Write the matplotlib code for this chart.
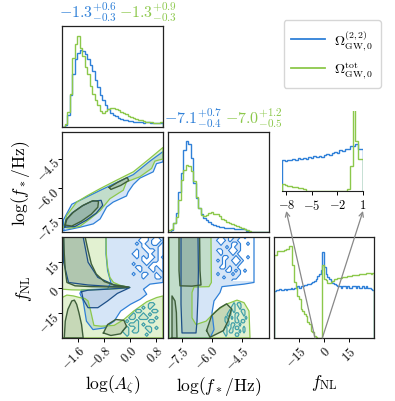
import numpy as np
import matplotlib.pyplot as plt
from matplotlib.patches import ConnectionPatch
from matplotlib.lines import Line2D

plt.rcParams['font.family'] = 'serif'
plt.rcParams['font.serif'] = ['cmr10', 'DejaVu Serif']
plt.rcParams['mathtext.fontset'] = 'cm'

BLUE = '#2f80d8'
GREEN = '#8cc84b'
DBLUE = '#1d4f88'
DGREEN = '#3e5e3a'
TEAL = '#3f9fa8'

# ---- 1D marginals -------------------------------------------------------
logA_edges = np.linspace(-2.1, 1.0, 41)
logA_blue = [0, .02, .12, .32, .52, .67, .73, .76, .75, .72, .67, .61, .55, .47, .40, .32,
             .27, .22, .18, .14, .12, .11, .09, .08, .07, .07, .06, .06, .05, .05, .05, .05,
             .04, .05, .05, .04, .04, .04, .04, .04]
logA_green = [0, .03, .15, .33, .68, .82, .90, .78, .70, .59, .52, .41, .33, .27, .22, .16,
              .14, .16, .18, .19, .19, .18, .17, .15, .14, .13, .11, .10, .09, .08, .07, .07,
              .06, .05, .05, .05, .04, .04, .04, .05]

logf_edges = np.linspace(-8.2, -3.15, 41)
logf_blue = [0, .02, .09, .19, .40, .59, .82, .91, .88, .74, .49, .34, .24, .18, .14, .12,
             .10, .08, .07, .06, .05, .05, .045, .04, .04, .04, .035, .03, .03, .03, .03, .01,
             0, 0, 0, 0, 0, 0, 0, 0]
logf_green = [.02, .03, .09, .15, .32, .52, .62, .67, .66, .61, .51, .35, .24, .17, .16, .17,
              .19, .20, .18, .18, .16, .13, .12, .10, .09, .08, .07, .06, .05, .04, .03, .02,
              .01, 0, 0, 0, 0, 0, 0, 0]

fnl_edges = np.linspace(-30, 30, 61)
fnl_blue = [.47, .48, .48, .49, .48, .48, .49, .48, .49, .49,
            .50, .49, .50, .50, .51, .50, .51, .51, .52, .52,
            .53, .53, .54, .55, .56, .58, .61, .63, .67, .85,
            .70, .63, .60, .58, .56, .54, .53, .52, .51, .51,
            .50, .51, .51, .50, .51, .50, .50, .51, .51, .50,
            .51, .50, .50, .51, .50, .51, .50, .50, .49, .48]
fnl_green = [.82, .82, .86, .86, .86, .86, .87, .88, .88, .91,
             .91, .72, .55, .50, .42, .39, .29, .27, .24, .22,
             .16, .14, .07, .06, .02, .01, 0, 0, 0, .72,
             .58, .57, .54, .54, .55, .56, .58, .58, .59, .59,
             .59, .60, .60, .60, .61, .61, .61, .62, .62, .62,
             .62, .63, .63, .63, .63, .64, .64, .64, .63, .64]

# zoomed view of f_NL near zero (log10 |f_NL|)
zoom_edges = np.linspace(-8.5, 1.0, 32)
zoom_blue = [31, 30, 31, 31, 32, 31, 33, 32, 33, 32, 34, 33, 35, 34, 35, 34,
             36, 37, 36, 38, 39, 38, 41, 40, 42, 42, 45, 45, 47, 42, 42]
zoom_green = [7, 6, 5, 5, 4, 4, 3, 3, 2, 0, 0, 0, 0, 0, 0, 0,
              0, 0, 0, 0, 0, 0, 0, 0, 0, 2, 25, 95, 50, 32, 32]

# ---- 2D credible regions (outer = 95%, inner = 68%) ---------------------
# log A vs log f*
D_blue_out = [(-2.04, -8.13), (-2.06, -7.6), (-1.8, -6.8), (-1.34, -6.43), (-0.93, -6.1),
              (-0.42, -5.7), (0.09, -5.3), (0.6, -4.62), (1.0, -4.14), (1.0, -4.66),
              (0.8, -4.75), (0.7, -5.16), (0.29, -5.48), (0.09, -5.8), (-0.07, -6.18),
              (-0.12, -6.38), (-0.53, -6.69), (-0.73, -6.94), (-0.93, -7.54),
              (-1.14, -7.79), (-1.55, -7.96)]
D_green_out = [(-2.04, -7.96), (-1.96, -7.37), (-1.65, -6.69), (-1.34, -6.38), (-0.93, -6.01),
               (-0.42, -5.58), (0.09, -5.16), (0.6, -4.48), (1.0, -3.93), (1.0, -4.51),
               (0.75, -4.62), (0.65, -4.99), (0.29, -5.41), (-0.12, -5.67), (-0.22, -6.09),
               (-0.63, -6.52), (-0.93, -7.12), (-1.24, -7.54), (-1.55, -7.91), (-1.85, -8.01)]
D_blue_in = [(-2.02, -7.95), (-1.98, -7.6), (-1.8, -7.25), (-1.5, -6.9), (-1.2, -6.65),
             (-0.9, -6.6), (-0.85, -6.85), (-1.05, -7.25), (-1.35, -7.6), (-1.7, -7.92)]
D_green_in = [(-2.0, -7.85), (-1.95, -7.55), (-1.75, -7.2), (-1.45, -6.85), (-1.15, -6.62),
              (-0.98, -6.65), (-1.0, -6.95), (-1.2, -7.3), (-1.5, -7.65), (-1.8, -7.9)]
D_green_in2 = [(-0.65, -5.95), (-0.4, -5.7), (-0.1, -5.45), (-0.05, -5.6), (-0.3, -5.85),
               (-0.6, -6.05)]

# log A vs f_NL
E_blue_out = [(-0.75, 30), (1.0, 30), (1.0, 3), (0.6, 2), (0.4, -1), (0.5, -4), (0.3, -7),
              (0.0, -10), (-0.3, -14), (-0.5, -20), (-0.8, -24), (-1.15, -25), (-1.35, -20),
              (-1.45, -8), (-1.55, -3.5), (-1.5, -1.5), (-1.2, -1.2), (-0.7, -0.8), (-0.6, 3),
              (-0.7, 10), (-0.75, 20)]
E_blue_in = [(-1.5, -2.5), (-1.3, -1.6), (-0.8, -1.1), (-0.02, -0.1), (-0.4, -3.5), (-0.7, -8),
             (-1.0, -12), (-1.3, -12), (-1.45, -7)]
E_blue_in2 = [(-2.05, 30), (-1.45, 30), (-1.3, 15), (-1.0, 6), (-0.5, 1.5), (-0.02, 0.1),
              (-0.5, 0.5), (-1.3, 1.5), (-1.9, 3), (-2.05, 15)]
E_green_out = [(-2.1, 30), (-0.75, 30), (-0.74, 20), (-0.70, 12), (-0.63, 6), (-0.52, 3),
               (-0.3, 1.2), (-0.02, 0.1), (-0.3, -0.6), (-0.7, -1.0), (-1.1, -1.3),
               (-1.5, -1.5), (-1.8, -1.4), (-2.1, -1.0)]
E_green_out2 = [(-2.1, -30), (-2.1, -6), (-1.95, -4.5), (-1.75, -5), (-1.55, -6), (-1.4, -6.5),
                (-1.3, -8), (-1.22, -14), (-1.15, -20), (-1.12, -22.5), (-0.9, -23),
                (-0.5, -22.5), (-0.2, -19), (0.1, -14), (0.5, -8.5), (0.8, -6), (1.0, -5),
                (1.0, -30)]
E_green_in = [(-2.05, 30), (-1.39, 30), (-1.3, 22), (-1.2, 14), (-1.05, 8), (-0.8, 3.5),
              (-0.5, 1.5), (-0.05, 0.2), (-0.6, 0.3), (-1.2, 0.5), (-1.7, 1.0), (-1.95, 3),
              (-2.0, 10), (-2.03, 20)]
E_green_in2 = [(-2.03, -30), (-1.45, -30), (-1.5, -22), (-1.58, -15), (-1.65, -10),
               (-1.72, -7.5), (-1.8, -8), (-1.92, -13), (-2.0, -20)]
E_green_in3 = [(-0.83, -27), (-0.7, -22), (-0.45, -19), (-0.2, -19.5), (-0.12, -23),
               (-0.3, -27.5), (-0.6, -28.5)]
# noisy tail of the 95% region: '#' = outside (hole) for the upper grid,
# '#' = inside (island) for the lower grid
E_holes_x, E_holes_f = (0.0, 1.0), (30, 4)
E_holes = ["....##..#..",
           "...###.###.",
           "..#.#..##.#",
           "....##...##",
           "..#..###.##",
           ".##...#..##",
           "..#.#.##.#.",
           "....###..##",
           ".#...#.####",
           "..##..##.##",
           "...#...#..#",
           ".#..##..#..",
           "....#...##.",
           "..........."]
E_isl_x, E_isl_f = (-0.4, 1.0), (-8, -30)
E_isl = ["...............",
         "..........##...",
         "........#.#....",
         "......##...##..",
         ".....#..#.#....",
         "....##.###..#..",
         "...#..#...##...",
         "....###.#......",
         "...#..#..##.#..",
         "..##.##...#....",
         "...#.....#.....",
         "..............."]

# log f* vs f_NL
F_blue_out = [(-8.15, 30), (-3.9, 30), (-3.9, 3), (-4.4, 2), (-5.0, 1.2), (-5.5, 0.5),
              (-5.6, -3), (-5.9, -8), (-6.0, -15), (-5.9, -25), (-6.1, -30), (-8.15, -30)]
F_blue_in = [(-7.55, 30), (-6.7, 30), (-6.68, 10), (-6.7, -5), (-6.75, -20), (-6.8, -27),
             (-7.5, -27), (-7.55, -10)]
F_green_out = [(-8.15, 30), (-6.05, 30), (-6.03, 3), (-6.15, 0.5), (-6.9, 0.3), (-7.0, -3),
               (-7.0, -18), (-6.8, -22), (-6.3, -20), (-5.8, -14), (-5.3, -10), (-4.75, -7.5),
               (-4.4, -9), (-4.15, -14), (-4.1, -30), (-8.15, -30)]
F_green_in = [(-7.65, 30), (-6.62, 30), (-6.6, 10), (-6.55, 1.5), (-7.0, 0.8), (-7.6, 1.0),
              (-7.65, 10)]
F_green_in2 = [(-8.0, -30), (-7.75, -30), (-7.78, -15), (-7.85, -8), (-8.0, -5)]
F_green_in3 = [(-6.27, -25.6), (-6.02, -16.7), (-5.6, -12), (-5.27, -9.7), (-5.02, -12.7),
               (-5.2, -20), (-5.43, -25.6), (-6.1, -29.6)]
F_holes_x, F_holes_f = (-5.85, -3.9), (30, 4)
F_holes = ["..#..##..#.###",
           ".###.#..######",
           "..#...##.##.##",
           "....#.#..#####",
           ".##..###.#####",
           "..#...#.######",
           "...##..#.##.##",
           ".#.#..###.####",
           "...#...#.#####",
           "..##.#..######",
           "....##.#.#.###",
           ".#....#..#####",
           "...#....######",
           "......########"]
F_isl_x, F_isl_f = (-5.5, -4.1), (-8, -30)
F_isl = ["...............",
         "......#.##.....",
         ".....##..#.....",
         "....#.#...##...",
         "...##..##..#...",
         "..#..#.#....#..",
         "..##...##.##...",
         "...#.##..#.....",
         "..#..#.##..#...",
         ".##.##...#.#...",
         "..#....##......",
         "..............."]

# ---- layout (pixel boxes of the reference) ------------------------------
W, H = 395, 402
fig = plt.figure(figsize=(W / 100, H / 100), dpi=100)


def box(x0, y0, x1, y1):
    return fig.add_axes([x0 / W, 1 - y1 / H, (x1 - x0) / W, (y1 - y0) / H])


cols = [(62, 163), (168, 269), (274, 374)]
rows = [(27, 128), (133, 233), (238, 339)]
lims = [(-2.1, 1.0), (-8.2, -3.15), (-30, 30)]
ticks = [[-1.6, -0.8, 0.0, 0.8], [-7.5, -6.0, -4.5], [-15, 0, 15]]
ticklabels = [['$-1.6$', '$-0.8$', '$0.0$', '$0.8$'], ['$-7.5$', '$-6.0$', '$-4.5$'],
              ['$-15$', '$0$', '$15$']]
labels = [r'$\log(A_\zeta)$', r'$\log(f_*/\mathrm{Hz})$', r'$f_\mathrm{NL}$']

axes = {}
for i in range(3):
    for j in range(i + 1):
        ax = box(cols[j][0], rows[i][0], cols[j][1], rows[i][1])
        axes[i, j] = ax
        for s in ax.spines.values():
            s.set_color('#222222')
            s.set_linewidth(0.9)
            s.set_zorder(5)
        ax.set_xlim(*lims[j])
        ax.tick_params(length=3, width=0.7, labelsize=9, pad=1)
        if i == 2:
            ax.set_xticks(ticks[j])
            ax.set_xticklabels(ticklabels[j], rotation=45, ha='right', rotation_mode='anchor')
            ax.set_xlabel(labels[j], fontsize=12.5, labelpad=1)
        else:
            ax.set_xticks([])
        if i != j:
            ax.set_ylim(*lims[i])
            if j == 0:
                ax.set_yticks(ticks[i])
                ax.set_yticklabels(ticklabels[i], rotation=45, ha='right', rotation_mode='anchor')
                ax.set_ylabel(labels[i], fontsize=12.5, labelpad=1)
            else:
                ax.set_yticks([])
        else:
            ax.set_yticks([])
            ax.set_ylim(0, 1.0)

# marginals
for (i, edges, b, g) in [(0, logA_edges, logA_blue, logA_green),
                         (1, logf_edges, logf_blue, logf_green),
                         (2, fnl_edges, fnl_blue, fnl_green)]:
    ax = axes[i, i]
    ax.stairs(b, edges, color=BLUE, lw=1.0)
    ax.stairs(g, edges, color=GREEN, lw=1.0)

# summary titles
for i, (tb, tg) in enumerate([(r'$-1.3^{+0.6}_{-0.3}$', r'$-1.3^{+0.9}_{-0.3}$'),
                              (r'$-7.1^{+0.7}_{-0.4}$', r'$-7.0^{+1.2}_{-0.5}$')]):
    ax = axes[i, i]
    ax.text(0.54, 1.03, tb, color=BLUE, fontsize=11.5, ha='right', va='bottom',
            transform=ax.transAxes)
    ax.text(0.56, 1.03, tg, color=GREEN, fontsize=11.5, ha='left', va='bottom',
            transform=ax.transAxes)


# 2D regions
def region(ax, pts, face, edge, alpha, lw=0.9):
    p = np.array(pts + [pts[0]])
    ax.fill(p[:, 0], p[:, 1], color=face, alpha=alpha, lw=0)
    ax.plot(p[:, 0], p[:, 1], color=edge, lw=lw)


def mask_grid(mask, xr, fr):
    z = np.array([[c == '#' for c in row] for row in mask], dtype=float)
    x = np.linspace(xr[0], xr[1], z.shape[1])
    y = np.linspace(fr[0], fr[1], z.shape[0])
    return x, y, z


def holes(ax, mask, xr, fr):
    x, y, z = mask_grid(mask, xr, fr)
    ax.contourf(x, y, z, levels=[0.5, 1.5], colors=['white'])
    ax.contour(x, y, z, levels=[0.5], colors=[BLUE], linewidths=0.85)


def islands(ax, mask, xr, fr):
    x, y, z = mask_grid(mask, xr, fr)
    ax.contourf(x, y, z, levels=[0.5, 1.5], colors=[TEAL], alpha=0.1)
    ax.contour(x, y, z, levels=[0.5], colors=[TEAL], linewidths=0.85)


panels = [
    (axes[1, 0], [D_blue_out], [D_blue_in], [D_green_out], [D_green_in, D_green_in2]),
    (axes[2, 0], [E_blue_out], [E_blue_in, E_blue_in2], [E_green_out, E_green_out2],
     [E_green_in, E_green_in2, E_green_in3]),
    (axes[2, 1], [F_blue_out], [F_blue_in], [F_green_out], [F_green_in, F_green_in2, F_green_in3]),
]
for k, (ax, bo, bi, go, gi) in enumerate(panels):
    for p in bo:
        region(ax, p, BLUE, BLUE, 0.2)
    if k == 1:
        holes(ax, E_holes, E_holes_x, E_holes_f)
    if k == 2:
        holes(ax, F_holes, F_holes_x, F_holes_f)
    for p in go:
        region(ax, p, GREEN, GREEN, 0.25)
    if k == 1:
        islands(ax, E_isl, E_isl_x, E_isl_f)
    if k == 2:
        islands(ax, F_isl, F_isl_x, F_isl_f)
    for p in bi:
        region(ax, p, DBLUE, DBLUE, 0.13)
    for p in gi:
        region(ax, p, DGREEN, DGREEN, 0.17, lw=1.0)

# zoom inset on log10|f_NL|
axz = box(282, 112, 363, 192)
axz.stairs(zoom_blue, zoom_edges, color=BLUE, lw=1.0)
axz.stairs(zoom_green, zoom_edges, color=GREEN, lw=1.0)
axz.set_xlim(-8.5, 1.0)
axz.set_ylim(0, 80)
for s in ['left', 'right', 'top']:
    axz.spines[s].set_visible(False)
axz.spines['bottom'].set_color('#222222')
axz.set_yticks([])
axz.set_xticks([-8, -5, -2, 1])
axz.set_xticklabels(['$-8$', '$-5$', '$-2$', '$1$'])
axz.tick_params(length=3, width=0.7, labelsize=9, pad=2)

for f0, t0 in [(-5.4, -8), (-1.0, 1)]:
    con = ConnectionPatch(xyA=(f0, 0), coordsA=axes[2, 2].transData,
                          xyB=(t0, -0.25), coordsB=axz.get_xaxis_transform(),
                          arrowstyle='->', color='#888888', lw=0.9, mutation_scale=8)
    fig.add_artist(con)

# legend
handles = [Line2D([], [], color=BLUE, lw=1.3), Line2D([], [], color=GREEN, lw=1.3)]
fig.legend(handles, [r'$\Omega_{\rm GW,0}^{(2,2)}$', r'$\Omega_{\rm GW,0}^{\rm tot}$'],
           loc='upper right', bbox_to_anchor=(388 / W, 1 - 14 / H), fontsize=10,
           frameon=True, handlelength=2.4, handletextpad=0.7, borderpad=0.55,
           labelspacing=0.6)

fig.savefig('out.png', dpi=100)
